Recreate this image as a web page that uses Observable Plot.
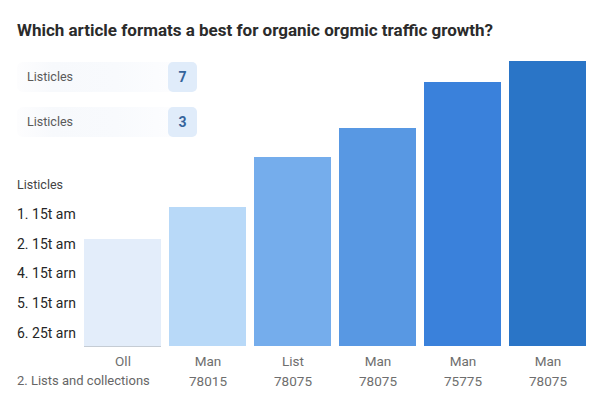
<!DOCTYPE html>
<html>
<head>
<meta charset="utf-8">
<script src="https://cdn.jsdelivr.net/npm/d3@7"></script>
<script src="https://cdn.jsdelivr.net/npm/@observablehq/plot@0.6"></script>
<style>
  html, body { margin: 0; padding: 0; background: #fff; }
  #page { position: relative; width: 600px; height: 400px; overflow: hidden; font-family: Roboto, "Open Sans", sans-serif; }
  #title { height: 50px; box-sizing: border-box; padding: 20px 0 0 17px; font-size: 17px; font-weight: 700; color: #2b2b2b; line-height: 20px; white-space: nowrap; }
  .card { position: absolute; left: 17px; width: 180px; height: 30px; border-radius: 6px;
          background: linear-gradient(to right, #fdfdfe 0%, #f7f9fc 20%, #f8fafd 55%, #fefeff 100%); }
  .card .name { position: absolute; left: 10px; top: 0; line-height: 30px; font-size: 12.5px; color: #5a5a5a; }
  .card .badge { position: absolute; right: 0; top: 0; width: 29px; height: 30px; border-radius: 5px; background: #e0ecfa;
                 text-align: center; line-height: 30px; font-size: 14px; font-weight: 700; color: #35649c; }
  .side { position: absolute; left: 17px; font-size: 14px; color: #262626; white-space: nowrap; line-height: 16px; }
  .side.head { font-size: 12.5px; color: #444; }
  #rowlabel { position: absolute; left: 17px; top: 373px; font-size: 13px; color: #666; white-space: nowrap; line-height: 16px; }
  #chart { position: absolute; left: 0; top: 50px; }
</style>
</head>
<body>
<div id="page">
  <div id="title">Which article formats a best for organic orgmic traffic growth?</div>
  <div id="cards"></div>
  <div id="side"></div>
  <div id="rowlabel"></div>
  <div id="chart"></div>
</div>
<script>
// Article formats along the x axis (two-line labels) and their traffic index
const formats = ["Oll", "Man", "List", "Man", "Man", "Man"];
const codes = ["", "78015", "78075", "78075", "75775", "78075"];
const traffic = [107, 139, 189, 218, 264, 285];
const barColors = ["#e3edfa", "#b8d9f8", "#75adec", "#5898e3", "#3a81db", "#2a75c7"];

// Summary cards at the top left
const cardNames = ["Listicles", "Listicles"];
const cardCounts = [7, 3];

// Ranked list on the left side
const sideHeading = "Listicles";
const sideItems = ["1. 15t am", "2. 15t am", "4. 15t arn", "5. 15t arn", "6. 25t arn"];
const rowLabel = "2. Lists and collections";

const data = formats.map((f, i) => ({key: i, format: f, code: codes[i], traffic: traffic[i], color: barColors[i]}));

// Cards
const cardTops = [62, 107];
const cardsEl = document.getElementById("cards");
cardNames.forEach((n, i) => {
  const c = document.createElement("div");
  c.className = "card";
  c.style.top = cardTops[i] + "px";
  c.innerHTML = `<span class="name"></span><span class="badge"></span>`;
  c.querySelector(".name").textContent = n;
  c.querySelector(".badge").textContent = cardCounts[i];
  cardsEl.appendChild(c);
});

// Side list
const sideEl = document.getElementById("side");
[sideHeading, ...sideItems].forEach((t, i) => {
  const d = document.createElement("div");
  d.className = "side" + (i === 0 ? " head" : "");
  d.style.top = (177 + (i === 0 ? 0 : 29 + (i - 1) * 29.7)) + "px";
  d.textContent = t;
  sideEl.appendChild(d);
});
document.getElementById("rowlabel").textContent = rowLabel;

const chart = Plot.plot({
  width: 600,
  height: 350,
  marginLeft: 79,
  marginRight: 10,
  marginTop: 6,
  marginBottom: 54,
  style: {fontFamily: "Roboto, 'Open Sans', sans-serif", color: "#6e6e6e", background: "transparent"},
  x: {domain: data.map(d => d.key), paddingInner: 0.1, paddingOuter: 0.05, axis: null, label: null},
  y: {domain: [0, 290], axis: null},
  marks: [
    Plot.barY(data, {x: "key", y: "traffic", fill: "color"}),
    Plot.tickY(data.slice(0, 1), {x: "key", y: 0, stroke: "#c5ccd4", strokeWidth: 1.2}),
    Plot.axisX({
      label: null,
      tickSize: 0,
      tickPadding: 5,
      fontSize: 13.5,
      lineHeight: 1.5,
      tickFormat: k => data[k].code ? `${data[k].format}\n${data[k].code}` : data[k].format
    })
  ]
});
document.getElementById("chart").appendChild(chart);
</script>
</body>
</html>
